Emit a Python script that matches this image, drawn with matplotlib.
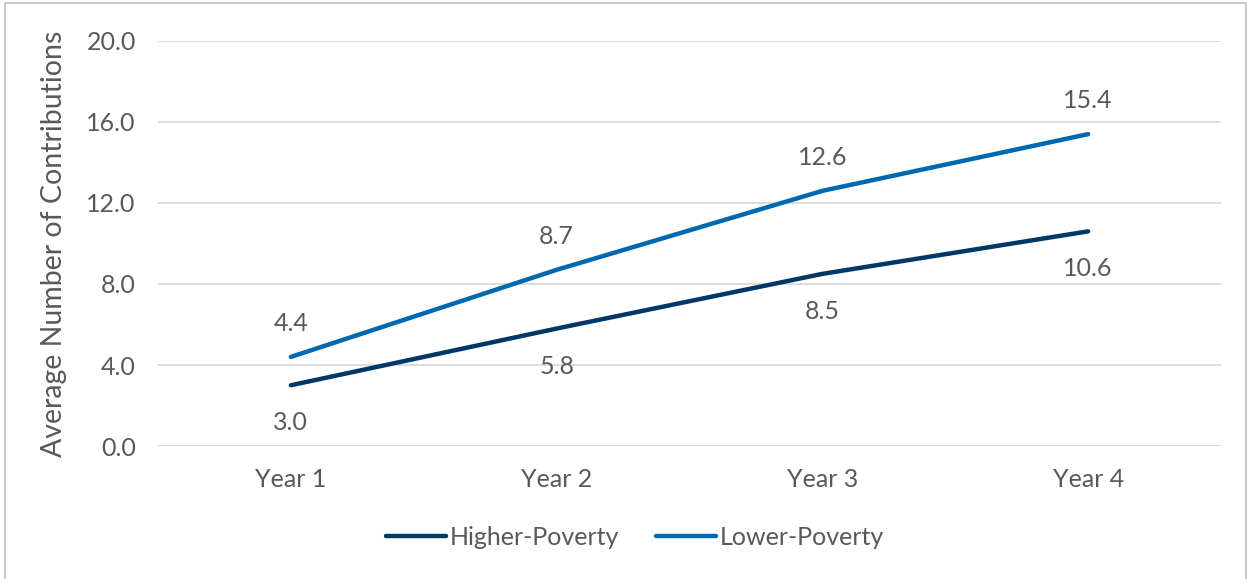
import matplotlib.pyplot as plt
import numpy as np

plt.rcParams.update({
    'font.family': ['Lato', 'DejaVu Sans'],
    'font.size': 18,
})

years = ["Year 1", "Year 2", "Year 3", "Year 4"]
higher_poverty = [3.0, 5.8, 8.5, 10.6]
lower_poverty = [4.4, 8.7, 12.6, 15.4]
y_ticks = [0.0, 4.0, 8.0, 12.0, 16.0, 20.0]

text_color = '#595959'
grid_color = '#D9D9D9'
dark_blue = '#003764'
mid_blue = '#0068B0'
fs = 18

fig = plt.figure(figsize=(12.5, 5.79), dpi=100)
ax = fig.add_axes([0.1264, 0.2297, 0.8504, 0.6995])

x = np.arange(len(years))
ax.plot(x, higher_poverty, color=dark_blue, lw=3.2, solid_capstyle='round',
        label='Higher-Poverty')
ax.plot(x, lower_poverty, color=mid_blue, lw=3.2, solid_capstyle='round',
        label='Lower-Poverty')

# value labels: lower series above the line, higher series below
for xi, v in zip(x, lower_poverty):
    ax.annotate(f'{v:.1f}', (xi, v), xytext=(0, 24), textcoords='offset points',
                ha='center', va='center', color=text_color, fontsize=fs)
for xi, v in zip(x, higher_poverty):
    ax.annotate(f'{v:.1f}', (xi, v), xytext=(0, -27), textcoords='offset points',
                ha='center', va='center', color=text_color, fontsize=fs)

ax.set_xlim(-0.5, len(years) - 0.5)
ax.set_ylim(0, 20)
ax.set_yticks(y_ticks)
ax.set_yticklabels([f'{t:.1f}' for t in y_ticks])
ax.set_xticks(x)
ax.set_xticklabels(years)
ax.tick_params(length=0, colors=text_color, labelsize=fs)
ax.tick_params(axis='y', pad=16)
ax.tick_params(axis='x', pad=16)
ax.grid(axis='y', color=grid_color, lw=1.3)
ax.set_axisbelow(True)
for s in ax.spines.values():
    s.set_visible(False)

ax.set_ylabel('Average Number of Contributions', color=text_color, fontsize=20.5,
              labelpad=14)

ax.legend(loc='center', bbox_to_anchor=(0.508, 0.072), bbox_transform=fig.transFigure,
          ncol=2, frameon=False, handlelength=2.4, handletextpad=0.15,
          columnspacing=1.5, labelcolor=text_color, fontsize=fs)

# thin outer frame
fig.add_artist(plt.Rectangle((0.004, -0.01), 0.993, 1.005, transform=fig.transFigure,
                             fill=False, edgecolor='#BFBFBF', lw=1.2))

fig.savefig('out.png', dpi=100, facecolor='white')
